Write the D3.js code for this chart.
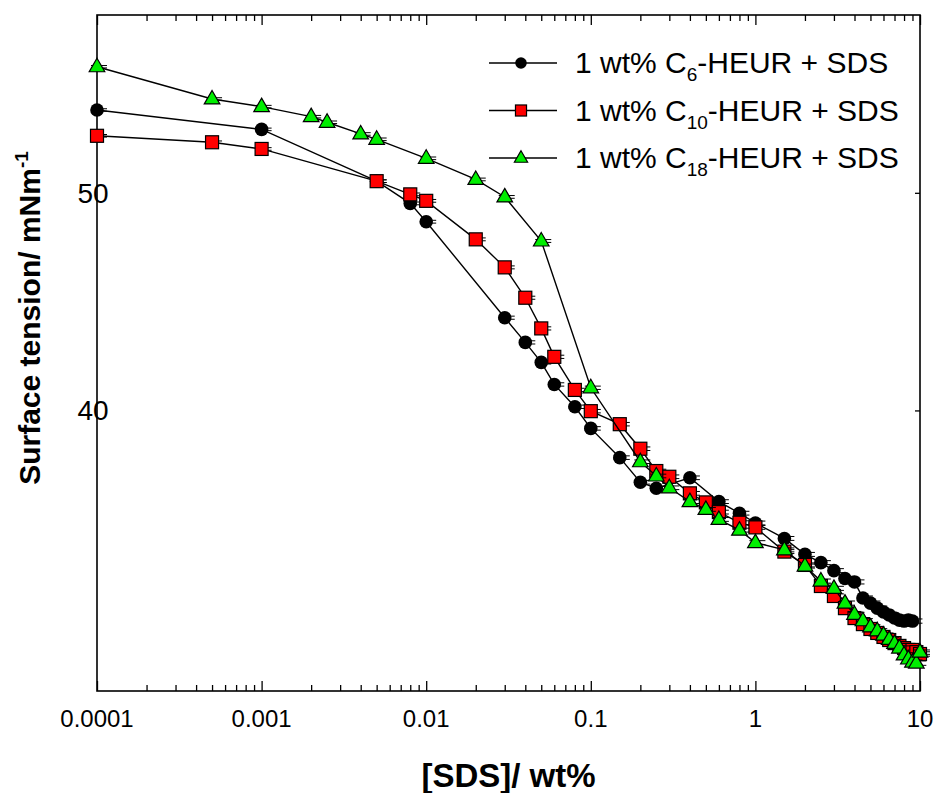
<!DOCTYPE html>
<html>
<head>
<meta charset="utf-8">
<script src="https://cdn.jsdelivr.net/npm/d3@7"></script>
<style>
  body { margin: 0; background: #fff; }
  text { font-family: "Liberation Sans", Arial, sans-serif; }
</style>
</head>
<body>
<svg id="chart" width="934" height="793"></svg>
<script>
// [SDS] in wt% and surface tension in mN/m
var c6X = [0.0001, 0.001, 0.005, 0.008, 0.01, 0.03, 0.04, 0.05, 0.06, 0.08, 0.1, 0.15, 0.2, 0.25, 0.4, 0.6, 0.8, 1, 1.5, 2, 2.5, 3, 3.5, 4, 4.5, 5, 5.5, 6, 6.5, 7, 7.5, 8, 8.5, 9];
var c6Y = [54.43, 53.36, 50.6, 49.46, 48.54, 43.99, 42.89, 42.02, 41.08, 40.15, 39.27, 38.11, 37.16, 36.93, 37.33, 36.43, 36.0, 35.64, 35.08, 34.51, 34.22, 33.94, 33.67, 33.55, 33.0, 32.83, 32.66, 32.53, 32.43, 32.33, 32.26, 32.23, 32.26, 32.23];

var c10X = [0.0001, 0.0005, 0.001, 0.005, 0.008, 0.01, 0.02, 0.03, 0.04, 0.05, 0.06, 0.08, 0.1, 0.15, 0.2, 0.25, 0.3, 0.4, 0.5, 0.6, 0.8, 1, 1.5, 2, 2.5, 3, 3.5, 4, 4.5, 5, 5.5, 6, 6.5, 7, 7.5, 8, 8.5, 9, 9.5, 10];
var c10Y = [53.01, 52.66, 52.3, 50.6, 49.92, 49.59, 47.67, 46.32, 44.9, 43.51, 42.26, 40.85, 39.97, 39.44, 38.46, 37.59, 37.37, 36.74, 36.4, 36.04, 35.65, 35.48, 34.61, 34.14, 33.41, 33.07, 32.66, 32.33, 32.13, 31.97, 31.84, 31.71, 31.61, 31.51, 31.42, 31.35, 31.29, 31.29, 31.22, 31.16];

var c18X = [0.0001, 0.0005, 0.001, 0.002, 0.0025, 0.004, 0.005, 0.01, 0.02, 0.03, 0.05, 0.1, 0.2, 0.25, 0.3, 0.4, 0.5, 0.6, 0.8, 1, 1.5, 2, 2.5, 3, 3.5, 4, 4.5, 5, 5.5, 6, 6.5, 7, 7.5, 8, 8.5, 9, 9.5, 10];
var c18Y = [56.9, 55.05, 54.62, 54.06, 53.75, 53.11, 52.82, 51.8, 50.69, 49.79, 47.59, 40.94, 37.95, 37.4, 36.95, 36.43, 36.14, 35.77, 35.38, 34.93, 34.67, 34.1, 33.58, 33.33, 32.83, 32.45, 32.24, 32.04, 31.91, 31.77, 31.63, 31.5, 31.35, 31.13, 31.0, 30.9, 30.87, 31.22];

var errBar = 0.07;

var xTicks = [0.0001, 0.001, 0.01, 0.1, 1, 10];
var xTickLabels = ["0.0001", "0.001", "0.01", "0.1", "1", "10"];
var yTicks = [40, 50];

var margin = { top: 15, right: 14, bottom: 102, left: 97 },
  width = 934 - margin.left - margin.right,
  height = 793 - margin.top - margin.bottom;

var svg = d3.select("#chart");
var g = svg.append("g").attr("transform", "translate(" + margin.left + "," + margin.top + ")");

var xScale = d3.scaleLog().domain([0.0001, 10]).range([0, width]);
var yScale = d3.scaleLog().domain([30, 60]).range([height, 0]);

// minor log ticks 2..9 per decade
var minorTicks = [];
for (var e = -4; e < 1; e++) {
  for (var m = 2; m <= 9; m++) minorTicks.push(m * Math.pow(10, e));
}

// bottom + top axes, ticks pointing inward
var bottomMinor = d3.axisBottom(xScale).tickValues(minorTicks).tickSize(-6).tickFormat("");
var bottomMajor = d3.axisBottom(xScale).tickValues(xTicks).tickSize(-10).tickFormat("");
[bottomMinor, bottomMajor].forEach(function (ax) {
  var a = g.append("g").attr("transform", "translate(0," + height + ")").call(ax);
  a.select(".domain").remove();
  a.selectAll("line").attr("stroke", "#000").attr("stroke-width", 1.3);
});
var topMinor = d3.axisTop(xScale).tickValues(minorTicks).tickSize(-6).tickFormat("");
var topMajor = d3.axisTop(xScale).tickValues(xTicks).tickSize(-10).tickFormat("");
[topMinor, topMajor].forEach(function (ax) {
  var a = g.append("g").call(ax);
  a.select(".domain").remove();
  a.selectAll("line").attr("stroke", "#000").attr("stroke-width", 1.3);
});
var rightAx = g.append("g").attr("transform", "translate(" + width + ",0)")
  .call(d3.axisRight(yScale).tickValues(yTicks).tickSize(-5).tickFormat(""));
rightAx.select(".domain").remove();
rightAx.selectAll("line").attr("stroke", "#000").attr("stroke-width", 1.3);

// x tick labels
g.selectAll(".xlab")
  .data(xTicks)
  .enter()
  .append("text")
  .attr("x", function (d) { return xScale(d); })
  .attr("y", height + 36)
  .attr("text-anchor", "middle")
  .attr("font-size", 24)
  .text(function (d, i) { return xTickLabels[i]; });

// y tick labels (sit on top of the axis line like the original)
g.selectAll(".ylab")
  .data(yTicks)
  .enter()
  .append("text")
  .attr("x", -4)
  .attr("y", function (d) { return yScale(d) + 10; })
  .attr("text-anchor", "middle")
  .attr("font-size", 28)
  .text(function (d) { return d; });

// frame
g.append("rect")
  .attr("width", width)
  .attr("height", height)
  .attr("fill", "none")
  .attr("stroke", "#000")
  .attr("stroke-width", 1.6);

// series
var series = [
  { xs: c6X, ys: c6Y, shape: "circle", fill: "#000000" },
  { xs: c10X, ys: c10Y, shape: "square", fill: "#ff0000" },
  { xs: c18X, ys: c18Y, shape: "triangle", fill: "#00ee00" }
];

function drawMarker(sel, shape, fill, s) {
  s = s || 1;
  if (shape == "circle") {
    sel.append("circle").attr("r", 6.8 * s).attr("fill", fill);
  } else if (shape == "square") {
    sel.append("rect").attr("x", -6.5 * s).attr("y", -6.5 * s)
      .attr("width", 13 * s).attr("height", 13 * s)
      .attr("fill", fill).attr("stroke", "#000").attr("stroke-width", 1.2);
  } else {
    sel.append("path")
      .attr("d", "M0," + (-8.5 * s) + "L" + (7.8 * s) + "," + (5 * s) + "L" + (-7.8 * s) + "," + (5 * s) + "Z")
      .attr("fill", fill).attr("stroke", "#000").attr("stroke-width", 1.2);
  }
}

var line = d3.line()
  .x(function (d) { return xScale(d[0]); })
  .y(function (d) { return yScale(d[1]); });

series.forEach(function (s) {
  var pts = s.xs.map(function (x, i) { return [x, s.ys[i]]; });
  var sg = g.append("g");
  sg.append("path")
    .datum(pts)
    .attr("fill", "none")
    .attr("stroke", "#000")
    .attr("stroke-width", 1.4)
    .attr("d", line);

  // small error bar caps
  var caps = sg.selectAll(".cap").data(pts).enter().append("g");
  [-1, 1].forEach(function (sign) {
    caps.append("line")
      .attr("x1", function (d) { return xScale(d[0]) - 6; })
      .attr("x2", function (d) { return xScale(d[0]) + 10; })
      .attr("y1", function (d) { return yScale(d[1] + sign * errBar); })
      .attr("y2", function (d) { return yScale(d[1] + sign * errBar); })
      .attr("stroke", "#000")
      .attr("stroke-width", 1);
  });

  sg.selectAll(".pt")
    .data(pts)
    .enter()
    .append("g")
    .attr("transform", function (d) { return "translate(" + xScale(d[0]) + "," + yScale(d[1]) + ")"; })
    .each(function () { drawMarker(d3.select(this), s.shape, s.fill); });
});

// legend
var legendNames = [["1 wt% C", "6", "-HEUR + SDS"], ["1 wt% C", "10", "-HEUR + SDS"], ["1 wt% C", "18", "-HEUR + SDS"]];
var leg = svg.append("g").attr("transform", "translate(489,63)");
series.forEach(function (s, i) {
  var row = leg.append("g").attr("transform", "translate(0," + i * 47.5 + ")");
  row.append("line").attr("x1", 0).attr("x2", 68).attr("stroke", "#000").attr("stroke-width", 1.4);
  var mk = row.append("g").attr("transform", "translate(32,0)");
  drawMarker(mk, s.shape, s.fill, 0.85);
  var t = row.append("text").attr("x", 86).attr("y", 10).attr("font-size", 30);
  t.append("tspan").text(legendNames[i][0]);
  t.append("tspan").attr("font-size", 19).attr("dy", 8).text(legendNames[i][1]);
  t.append("tspan").attr("dy", -8).text(legendNames[i][2]);
});

// axis titles
svg.append("text")
  .attr("x", margin.left + width / 2 - 0)
  .attr("y", 787)
  .attr("text-anchor", "middle")
  .attr("font-size", 33)
  .attr("font-weight", "bold")
  .text("[SDS]/ wt%");

var yt = svg.append("text")
  .attr("transform", "translate(40,318) rotate(-90)")
  .attr("text-anchor", "middle")
  .attr("font-size", 30)
  .attr("font-weight", "bold");
yt.append("tspan").text("Surface tension/ mNm");
yt.append("tspan").attr("font-size", 19).attr("dy", -12).text("-1");
</script>
</body>
</html>
